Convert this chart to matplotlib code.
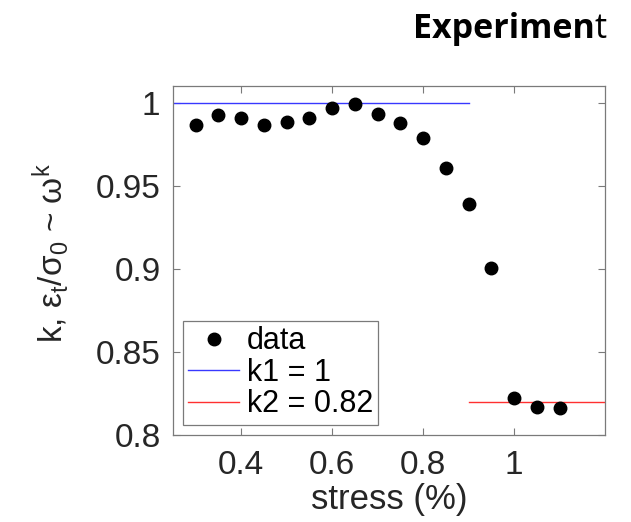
import matplotlib
matplotlib.use("Agg")
import matplotlib.pyplot as plt
import numpy as np

plt.rcParams["font.family"] = ["Liberation Sans", "DejaVu Sans"]
plt.rcParams["mathtext.fontset"] = "custom"
plt.rcParams["mathtext.rm"] = "Liberation Sans"
plt.rcParams["mathtext.it"] = "Liberation Sans"
plt.rcParams["mathtext.bf"] = "Liberation Sans:bold"

# ---- data ----
stress = [0.30, 0.35, 0.40, 0.45, 0.50, 0.55, 0.60, 0.65, 0.70, 0.75,
          0.80, 0.85, 0.90, 0.95, 1.00, 1.05, 1.10]
k_vals = [0.987, 0.993, 0.991, 0.987, 0.9886, 0.991, 0.9968, 0.9992, 0.9936, 0.9878,
          0.979, 0.9607, 0.939, 0.9008, 0.8225, 0.8167, 0.8161]
k1_x = [0.25, 0.90]
k1 = 1.0
k2_x = [0.90, 1.20]
k2 = 0.82
xticks = [0.4, 0.6, 0.8, 1.0]
xticklabels = ["0.4", "0.6", "0.8", "1"]
yticks = [0.80, 0.85, 0.90, 0.95, 1.00]
yticklabels = ["0.8", "0.85", "0.9", "0.95", "1"]

W, H = 631, 522
fig = plt.figure(figsize=(W / 100, H / 100), dpi=100)
fig.patch.set_facecolor("white")

txt_col = "#262626"
ax_col = "#7a7a7a"

ax = fig.add_axes([173 / W, 1 - 435 / H, (605 - 173) / W, (435 - 86) / H])
ax.plot(stress, k_vals, "o", color="black", ms=9, label="data", zorder=3)
ax.plot(k1_x, [k1, k1], color="#3838ff", lw=1.0, label="k1 = 1")
ax.plot(k2_x, [k2, k2], color="#ff3030", lw=1.0, label="k2 = 0.82")

ax.set_xlim(0.25, 1.2)
ax.set_ylim(0.8, 1.0102)
ax.set_xticks(xticks)
ax.set_xticklabels(xticklabels)
ax.set_yticks(yticks)
ax.set_yticklabels(yticklabels)
ax.tick_params(direction="in", length=5, width=0.8, colors=ax_col,
               labelcolor=txt_col, labelsize=24, top=True, right=True)
ax.tick_params(axis="x", pad=11)
ax.tick_params(axis="y", pad=9)
for s in ax.spines.values():
    s.set_color(ax_col)
    s.set_linewidth(0.9)

ax.set_xlabel("stress (%)", fontsize=25, color=txt_col, labelpad=1)

fig.text(51 / W, 1 - 253 / H, r"k, $\mathregular{ε_t/σ_0}$ ~ $\mathregular{ω^k}$",
         rotation=90, ha="center", va="center", fontsize=24, color=txt_col)

leg = ax.legend(loc="lower left", bbox_to_anchor=(183 / W, 1 - 425 / H),
                bbox_transform=fig.transFigure, borderaxespad=0,
                fontsize=22, frameon=True, fancybox=False, handlelength=1.65,
                handletextpad=0.25, borderpad=0.18, labelspacing=0.05,
                framealpha=1)
leg.get_frame().set_edgecolor(ax_col)
leg.get_frame().set_linewidth(0.9)

# title: "Experimen" bold + "t" regular
t_last = fig.text(607 / W, 1 - 38 / H, "t", fontsize=24.5, family="Open Sans",
                  ha="right", va="baseline", color="black")
fig.canvas.draw()
bb = t_last.get_window_extent()
fig.text(bb.x0 / W, 1 - 38 / H, "Experimen", fontsize=24.5, family="Open Sans",
         fontweight="bold", ha="right", va="baseline", color="black")

fig.savefig("out.png", dpi=100)
